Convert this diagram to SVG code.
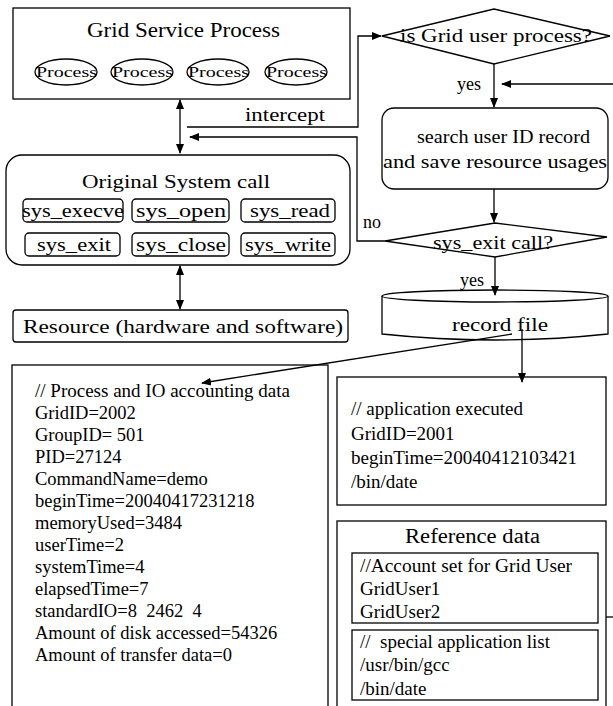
<svg xmlns="http://www.w3.org/2000/svg" width="613" height="706" viewBox="0 0 613 706">
<defs>
<marker id="ah" markerWidth="10" markerHeight="10" refX="9" refY="5" orient="auto-start-reverse" markerUnits="userSpaceOnUse">
<path d="M0,1 L10,5 L0,9 Z" fill="#000"/>
</marker>
<style>
text{font-family:"Liberation Serif","Times New Roman",serif;fill:#000}
.b{fill:#fff;stroke:#000;stroke-width:1.3}
.l{fill:none;stroke:#000;stroke-width:1.3}
.t20{font-size:20px}
.t19{font-size:19px}
.t18{font-size:18px}
.t185{font-size:18.5px}
.t15{font-size:15px}
</style>
</defs>
<rect width="613" height="706" fill="#fff"/>

<g id="grid-service-process">
<rect class="b" x="13" y="8" width="337" height="91"/>
<text class="t20" x="87" y="37" textLength="193" lengthAdjust="spacingAndGlyphs">Grid Service Process</text>
<ellipse class="b" cx="66" cy="72" rx="31" ry="13"/>
<ellipse class="b" cx="142" cy="72" rx="31" ry="13"/>
<ellipse class="b" cx="218" cy="72" rx="31" ry="13"/>
<ellipse class="b" cx="296" cy="72" rx="31" ry="13"/>
<text class="t15" x="36" y="77" textLength="61" lengthAdjust="spacingAndGlyphs">Process</text>
<text class="t15" x="112" y="77" textLength="61" lengthAdjust="spacingAndGlyphs">Process</text>
<text class="t15" x="188" y="77" textLength="61" lengthAdjust="spacingAndGlyphs">Process</text>
<text class="t15" x="266" y="77" textLength="61" lengthAdjust="spacingAndGlyphs">Process</text>
</g>

<g id="original-system-call">
<rect class="b" x="6" y="155" width="344" height="110" rx="16"/>
<text class="t19" x="82" y="188" textLength="188" lengthAdjust="spacingAndGlyphs">Original System call</text>
<rect class="b" x="23" y="199" width="100" height="23" rx="4"/>
<rect class="b" x="132" y="199" width="97" height="23" rx="4"/>
<rect class="b" x="241" y="199" width="94" height="23" rx="4"/>
<rect class="b" x="25" y="233" width="95" height="23" rx="4"/>
<rect class="b" x="132" y="233" width="97" height="23" rx="4"/>
<rect class="b" x="241" y="233" width="94" height="23" rx="4"/>
<text class="t18" x="22" y="217" textLength="102" lengthAdjust="spacingAndGlyphs">sys_execve</text>
<text class="t18" x="136" y="217" textLength="90" lengthAdjust="spacingAndGlyphs">sys_open</text>
<text class="t18" x="250" y="217" textLength="80" lengthAdjust="spacingAndGlyphs">sys_read</text>
<text class="t18" x="37" y="251" textLength="74" lengthAdjust="spacingAndGlyphs">sys_exit</text>
<text class="t18" x="136" y="251" textLength="90" lengthAdjust="spacingAndGlyphs">sys_close</text>
<text class="t18" x="245" y="251" textLength="86" lengthAdjust="spacingAndGlyphs">sys_write</text>
</g>

<g id="resource">
<rect class="b" x="13" y="310" width="335" height="32" rx="3"/>
<text class="t19" x="23" y="333" textLength="320" lengthAdjust="spacingAndGlyphs">Resource (hardware and software)</text>
</g>

<g id="is-grid-user">
<polygon class="b" points="382,36 494,9 610,36 494,64"/>
<text class="t19" x="400" y="42" textLength="192" lengthAdjust="spacingAndGlyphs">is Grid user process?</text>
</g>

<g id="search-user">
<rect class="b" x="382" y="108" width="226" height="81" rx="12"/>
<text class="t19" x="417" y="143" textLength="173" lengthAdjust="spacingAndGlyphs">search user ID record</text>
<text class="t19" x="383" y="168" textLength="224" lengthAdjust="spacingAndGlyphs">and save resource usages</text>
</g>

<g id="sys-exit-call">
<polygon class="b" points="385,241 495,223 607,237 495,257"/>
<text class="t19" x="433" y="249" textLength="120" lengthAdjust="spacingAndGlyphs">sys_exit call?</text>
</g>

<g id="record-file">
<path class="b" d="M382,296 L382,334 Q495,346 608,334 L608,296"/>
<ellipse class="b" cx="495" cy="296" rx="113" ry="6"/>
<text class="t19" x="452" y="331" textLength="96" lengthAdjust="spacingAndGlyphs">record file</text>
</g>

<g id="accounting-data">
<rect class="b" x="12" y="365" width="316" height="350"/>
<g class="t185">
<text x="35" y="397" textLength="255" lengthAdjust="spacingAndGlyphs">// Process and IO accounting data</text>
<text x="35" y="419">GridID=2002</text>
<text x="35" y="441">GroupID= 501</text>
<text x="35" y="463">PID=27124</text>
<text x="35" y="485">CommandName=demo</text>
<text x="35" y="507">beginTime=20040417231218</text>
<text x="35" y="529">memoryUsed=3484</text>
<text x="35" y="551">userTime=2</text>
<text x="35" y="573">systemTime=4</text>
<text x="35" y="595">elapsedTime=7</text>
<text x="35" y="617" xml:space="preserve">standardIO=8  2462  4</text>
<text x="35" y="639">Amount of disk accessed=54326</text>
<text x="35" y="661">Amount of transfer data=0</text>
</g>
</g>

<g id="application-executed">
<rect class="b" x="337" y="377" width="269" height="128"/>
<g class="t19">
<text x="351" y="415">// application executed</text>
<text x="351" y="440">GridID=2001</text>
<text x="351" y="464" textLength="226" lengthAdjust="spacingAndGlyphs">beginTime=20040412103421</text>
<text x="351" y="488">/bin/date</text>
</g>
</g>

<g id="reference-data">
<rect class="b" x="337" y="521" width="269" height="200"/>
<text class="t20" x="405" y="543" textLength="135" lengthAdjust="spacingAndGlyphs">Reference data</text>
<rect class="b" x="352" y="553" width="246" height="70"/>
<rect class="b" x="352" y="630" width="246" height="70"/>
<g class="t19">
<text x="360" y="572" textLength="212" lengthAdjust="spacingAndGlyphs">//Account set for Grid User</text>
<text x="360" y="595">GridUser1</text>
<text x="360" y="618">GridUser2</text>
<text x="360" y="648" xml:space="preserve">//  special application list</text>
<text x="360" y="671">/usr/bin/gcc</text>
<text x="360" y="695">/bin/date</text>
</g>
</g>

<g id="connectors">
<path class="l" d="M180,100 L180,153" marker-start="url(#ah)" marker-end="url(#ah)"/>
<path class="l" d="M180,266 L180,309" marker-start="url(#ah)" marker-end="url(#ah)"/>
<path class="l" d="M187,127 L358,127 L358,36 L381,36" marker-end="url(#ah)"/>
<text class="t18" x="245" y="121" textLength="80" lengthAdjust="spacingAndGlyphs">intercept</text>
<path class="l" d="M494,64 L494,107" marker-end="url(#ah)"/>
<text class="t18" x="457" y="90">yes</text>
<path class="l" d="M613,84 L502,84" marker-end="url(#ah)"/>
<path class="l" d="M494,189 L494,222" marker-end="url(#ah)"/>
<path class="l" d="M385,241 L357,241 L357,137 L190,137" marker-end="url(#ah)"/>
<text class="t18" x="363" y="228">no</text>
<path class="l" d="M495,257 L495,295" marker-end="url(#ah)"/>
<text class="t18" x="460" y="286">yes</text>
<path class="l" d="M512,334 L202,383" marker-end="url(#ah)"/>
<path class="l" d="M522,329 L522,382" marker-end="url(#ah)"/>
<path class="l" d="M606,617 L613,617"/>
</g>
</svg>
